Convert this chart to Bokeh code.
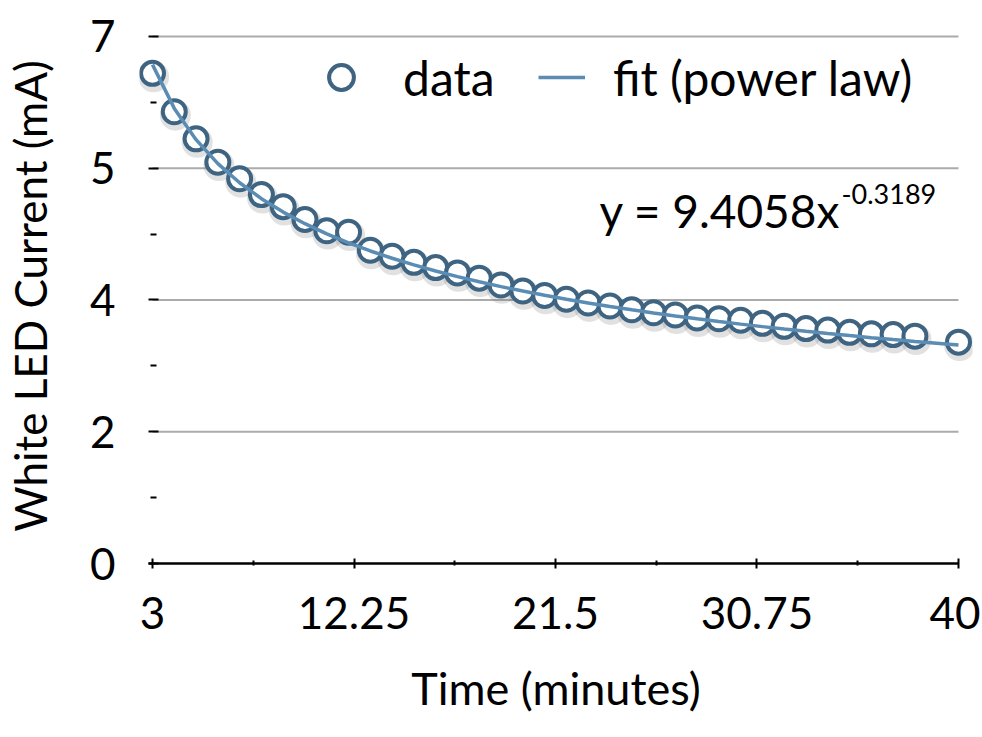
from bokeh.plotting import figure
from bokeh.models import Range1d, FixedTicker, Legend, LegendItem, Label, ColumnDataSource
from bokeh.transform import dodge
from bokeh.embed import file_html
from bokeh.resources import INLINE

# ---------------- data ----------------
time_min = [3, 4, 5, 6, 7, 8, 9, 10, 11, 12, 13, 14, 15, 16, 17, 18, 19, 20,
            21, 22, 23, 24, 25, 26, 27, 28, 29, 30, 31, 32, 33, 34, 35, 36,
            37, 38, 40]
current_ma = [6.51, 6.00, 5.64, 5.33, 5.11, 4.90, 4.74, 4.57, 4.42, 4.40,
              4.16, 4.08, 4.00, 3.93, 3.86, 3.79, 3.70, 3.62, 3.56, 3.51,
              3.46, 3.42, 3.37, 3.33, 3.30, 3.26, 3.25, 3.23, 3.19, 3.15,
              3.12, 3.10, 3.07, 3.05, 3.04, 3.02, 2.94]

# power-law trendline shown on the chart: y = 9.4058 x^-0.3189
fit_a = 9.4058
fit_b = -0.3189
fit_ma = [fit_a * t ** fit_b for t in time_min]

x_ticks = [3, 12.25, 21.5, 30.75, 40]
x_tick_labels = ["3", "12.25", "21.5", "30.75", "40"]
x_minor_ticks = [7.625, 16.875, 26.125, 35.375]
y_ticks = [0, 1.75, 3.5, 5.25, 7]
y_tick_labels = ["0", "2", "4", "5", "7"]
y_minor_ticks = [0.875, 2.625, 4.375, 6.125]

# ---------------- style ----------------
FONT = "Lato"
DATA_COLOR = "#3E6482"
FIT_COLOR = "#5A8CB4"
GRID_COLOR = "#ABABAB"

src = ColumnDataSource(dict(t=time_min, i=current_ma))

p = figure(width=980, height=735,
           x_range=Range1d(2.403, 40.643), y_range=Range1d(0, 7.106),
           output_backend="svg", toolbar_location=None,
           min_border_left=139, min_border_right=8,
           min_border_top=28, min_border_bottom=172)
p.outline_line_color = None
p.xgrid.visible = False
p.ygrid.visible = False
p.background_fill_color = "white"
p.border_fill_color = "white"

# horizontal gridlines at the major y ticks (the x axis covers 0)
grid_y = [v for v in y_ticks if v != 0]
p.segment(x0=[x_ticks[0]] * len(grid_y), x1=[x_ticks[-1]] * len(grid_y),
          y0=grid_y, y1=grid_y, line_color=GRID_COLOR, line_width=2)

# soft drop shadow under the markers
p.scatter(x=dodge("t", 0.05, range=p.x_range), y=dodge("i", -0.045, range=p.y_range),
          source=src, marker="circle", size=24, fill_color=None,
          line_color="#777777", line_alpha=0.22, line_width=7)
r_data = p.scatter(x="t", y="i", source=src, marker="circle", size=23,
                   fill_color="white", line_color=DATA_COLOR, line_width=4)
r_fit = p.line(time_min, fit_ma, line_color=FIT_COLOR, line_width=3.5)

# ---------------- axes ----------------
xa = p.xaxis[0]
xa.ticker = FixedTicker(ticks=x_ticks, minor_ticks=x_minor_ticks)
xa.major_label_overrides = {float(k): v for k, v in zip(x_ticks, x_tick_labels)}
xa.bounds = (x_ticks[0] - 0.18, x_ticks[-1])
xa.axis_line_color = "black"
xa.axis_line_width = 2.5
xa.major_tick_line_color = "black"
xa.major_tick_line_width = 2
xa.major_tick_in = 5
xa.major_tick_out = 5
xa.minor_tick_line_color = "black"
xa.minor_tick_line_width = 2
xa.minor_tick_in = 3
xa.minor_tick_out = 2
xa.major_label_standoff = 28
xa.major_label_text_font = FONT
xa.major_label_text_font_size = "44px"
xa.major_label_text_color = "black"
xa.axis_label = "Time (minutes)"
xa.axis_label_text_font = FONT
xa.axis_label_text_font_size = "45px"
xa.axis_label_text_font_style = "normal"
xa.axis_label_text_color = "black"
xa.axis_label_standoff = 29

ya = p.yaxis[0]
ya.ticker = FixedTicker(ticks=y_ticks, minor_ticks=y_minor_ticks)
ya.major_label_overrides = {float(k): v for k, v in zip(y_ticks, y_tick_labels)}
ya.axis_line_color = None
ya.major_tick_line_color = "black"
ya.major_tick_line_width = 2
# ticks sit at x = 3 (inside the frame edge), as in the reference
ya.major_tick_in = 19
ya.major_tick_out = -9
ya.minor_tick_line_color = "black"
ya.minor_tick_line_width = 2
ya.minor_tick_in = 17
ya.minor_tick_out = -11
ya.major_label_standoff = 33
ya.major_label_text_font = FONT
ya.major_label_text_font_size = "44px"
ya.major_label_text_color = "black"
ya.axis_label = "White LED Current (mA)"
ya.axis_label_text_font = FONT
ya.axis_label_text_font_size = "44px"
ya.axis_label_text_font_style = "normal"
ya.axis_label_text_color = "black"
ya.axis_label_standoff = 31

# ---------------- legends ----------------
common = dict(border_line_color=None, background_fill_alpha=0, padding=0,
              margin=0, spacing=0, label_text_font=FONT,
              label_text_font_size="48px", label_text_color="black",
              orientation="horizontal")
leg_data = Legend(items=[LegendItem(label="data", renderers=[r_data])],
                  location=(171, 455), glyph_width=62, glyph_height=62,
                  label_standoff=31, **common)
leg_fit = Legend(items=[LegendItem(label="fit (power law)", renderers=[r_fit])],
                 location=(399, 455), glyph_width=47, glyph_height=62,
                 label_standoff=28, **common)
p.add_layout(leg_data)
p.add_layout(leg_fit)

# ---------------- equation ----------------
eq_main = Label(x=701, y=353, x_units="screen", y_units="screen",
                text="y = %.4fx" % fit_a, text_font=FONT, text_font_size="46px",
                text_align="right", text_baseline="alphabetic", text_color="black")
eq_exp = Label(x=702, y=370, x_units="screen", y_units="screen",
               text="%.4f" % fit_b, text_font=FONT, text_font_size="27px",
               text_align="left", text_baseline="alphabetic", text_color="black")
p.add_layout(eq_main)
p.add_layout(eq_exp)

open("out.html", "w").write(file_html(p, INLINE))
